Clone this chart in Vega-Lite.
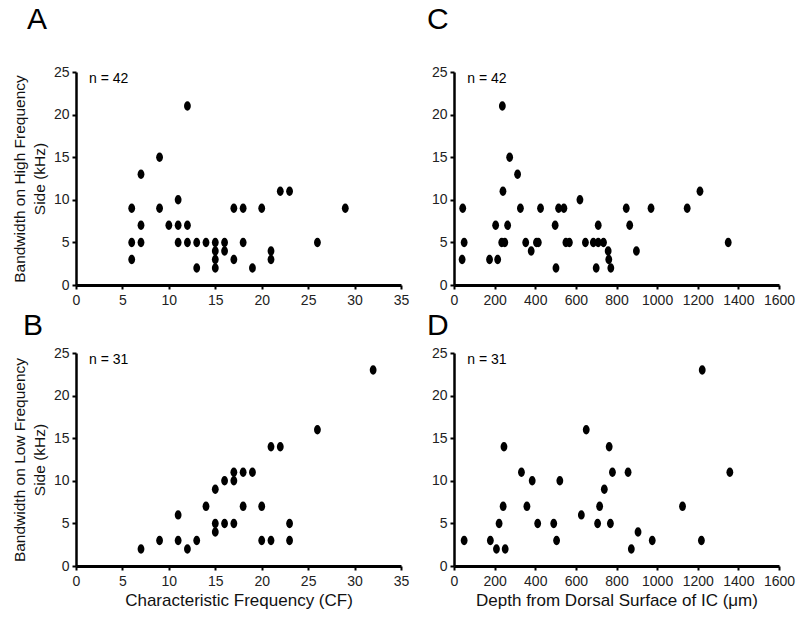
{
  "$schema": "https://vega.github.io/schema/vega-lite/v6.json",
  "background": "white",
  "padding": {"left": 12, "top": 5, "right": 5, "bottom": 5},
  "config": {
    "font": "Liberation Sans",
    "view": {"stroke": null},
    "axis": {"grid": false, "domainColor": "black", "domainWidth": 2.5, "tickColor": "black", "tickSize": 4, "tickWidth": 2, "labelFont": "Liberation Sans", "labelFontSize": 14, "labelColor": "#222", "labelPadding": 3, "labelFlush": false, "labelOverlap": false, "titleFont": "Liberation Sans", "titleFontSize": 15.5, "titleFontWeight": "normal", "titleColor": "#111", "titleLineHeight": 20},
    "axisX": {"domainWidth": 3, "labelPadding": 4, "titleFontSize": 17},
    "title": {"fontSize": 30, "fontWeight": "normal", "anchor": "start", "frame": "group", "color": "black", "font": "Liberation Sans"}
  },
  "datasets": {
    "A": [
      {"cf": 12, "bw": 21}, {"cf": 9, "bw": 15}, {"cf": 7, "bw": 13}, {"cf": 22, "bw": 11}, {"cf": 23, "bw": 11},
      {"cf": 11, "bw": 10}, {"cf": 6, "bw": 9}, {"cf": 9, "bw": 9}, {"cf": 17, "bw": 9}, {"cf": 18, "bw": 9},
      {"cf": 20, "bw": 9}, {"cf": 29, "bw": 9}, {"cf": 7, "bw": 7}, {"cf": 10, "bw": 7}, {"cf": 11, "bw": 7},
      {"cf": 12, "bw": 7}, {"cf": 6, "bw": 5}, {"cf": 7, "bw": 5}, {"cf": 11, "bw": 5}, {"cf": 12, "bw": 5},
      {"cf": 13, "bw": 5}, {"cf": 14, "bw": 5}, {"cf": 15, "bw": 5}, {"cf": 16, "bw": 5}, {"cf": 18, "bw": 5},
      {"cf": 26, "bw": 5}, {"cf": 15, "bw": 4}, {"cf": 16, "bw": 4}, {"cf": 21, "bw": 4}, {"cf": 6, "bw": 3},
      {"cf": 15, "bw": 3}, {"cf": 17, "bw": 3}, {"cf": 21, "bw": 3}, {"cf": 13, "bw": 2}, {"cf": 15, "bw": 2},
      {"cf": 19, "bw": 2}
    ],
    "B": [
      {"cf": 32, "bw": 23}, {"cf": 26, "bw": 16}, {"cf": 21, "bw": 14}, {"cf": 22, "bw": 14}, {"cf": 17, "bw": 11},
      {"cf": 18, "bw": 11}, {"cf": 19, "bw": 11}, {"cf": 16, "bw": 10}, {"cf": 17, "bw": 10}, {"cf": 15, "bw": 9},
      {"cf": 14, "bw": 7}, {"cf": 18, "bw": 7}, {"cf": 20, "bw": 7}, {"cf": 11, "bw": 6}, {"cf": 15, "bw": 5},
      {"cf": 16, "bw": 5}, {"cf": 17, "bw": 5}, {"cf": 23, "bw": 5}, {"cf": 15, "bw": 4}, {"cf": 9, "bw": 3},
      {"cf": 11, "bw": 3}, {"cf": 13, "bw": 3}, {"cf": 20, "bw": 3}, {"cf": 21, "bw": 3}, {"cf": 23, "bw": 3},
      {"cf": 7, "bw": 2}, {"cf": 12, "bw": 2}
    ],
    "C": [
      {"depth": 238, "bw": 21}, {"depth": 274, "bw": 15}, {"depth": 313, "bw": 13}, {"depth": 241, "bw": 11},
      {"depth": 1211, "bw": 11}, {"depth": 620, "bw": 10}, {"depth": 43, "bw": 9}, {"depth": 327, "bw": 9},
      {"depth": 426, "bw": 9}, {"depth": 515, "bw": 9}, {"depth": 541, "bw": 9}, {"depth": 848, "bw": 9},
      {"depth": 970, "bw": 9}, {"depth": 1148, "bw": 9}, {"depth": 205, "bw": 7}, {"depth": 264, "bw": 7},
      {"depth": 498, "bw": 7}, {"depth": 710, "bw": 7}, {"depth": 865, "bw": 7}, {"depth": 50, "bw": 5},
      {"depth": 235, "bw": 5}, {"depth": 250, "bw": 5}, {"depth": 353, "bw": 5}, {"depth": 406, "bw": 5},
      {"depth": 415, "bw": 5}, {"depth": 551, "bw": 5}, {"depth": 568, "bw": 5}, {"depth": 647, "bw": 5},
      {"depth": 686, "bw": 5}, {"depth": 710, "bw": 5}, {"depth": 736, "bw": 5}, {"depth": 1350, "bw": 5},
      {"depth": 380, "bw": 4}, {"depth": 759, "bw": 4}, {"depth": 898, "bw": 4}, {"depth": 40, "bw": 3},
      {"depth": 175, "bw": 3}, {"depth": 215, "bw": 3}, {"depth": 762, "bw": 3}, {"depth": 502, "bw": 2},
      {"depth": 700, "bw": 2}, {"depth": 772, "bw": 2}
    ],
    "D": [
      {"depth": 50, "bw": 3}, {"depth": 179, "bw": 3}, {"depth": 209, "bw": 2}, {"depth": 222, "bw": 5},
      {"depth": 246, "bw": 14}, {"depth": 242, "bw": 7}, {"depth": 252, "bw": 2}, {"depth": 332, "bw": 11},
      {"depth": 359, "bw": 7}, {"depth": 385, "bw": 10}, {"depth": 412, "bw": 5}, {"depth": 491, "bw": 5},
      {"depth": 505, "bw": 3}, {"depth": 521, "bw": 10}, {"depth": 627, "bw": 6}, {"depth": 651, "bw": 16},
      {"depth": 707, "bw": 5}, {"depth": 717, "bw": 7}, {"depth": 740, "bw": 9}, {"depth": 764, "bw": 14},
      {"depth": 770, "bw": 5}, {"depth": 780, "bw": 11}, {"depth": 857, "bw": 11}, {"depth": 873, "bw": 2},
      {"depth": 906, "bw": 4}, {"depth": 976, "bw": 3}, {"depth": 1125, "bw": 7}, {"depth": 1222, "bw": 23},
      {"depth": 1218, "bw": 3}, {"depth": 1358, "bw": 11}
    ]
  },
  "spacing": 4,
  "vconcat": [
    {
      "spacing": 18,
      "hconcat": [
        {
          "width": 325, "height": 213,
          "title": {"text": "A", "dx": -49, "offset": 30},
          "layer": [
            {
              "data": {"name": "A"},
              "mark": {"type": "point", "shape": "M0,-1C0.398,-1 0.72,-0.552 0.72,0C0.72,0.552 0.398,1 0,1C-0.398,1 -0.72,0.552 -0.72,0C-0.72,-0.552 -0.398,-1 0,-1Z", "filled": true, "color": "black", "size": 90, "opacity": 1},
              "encoding": {
                "x": {"field": "cf", "type": "quantitative", "scale": {"domain": [0, 35], "nice": false}, "axis": {"values": [0, 5, 10, 15, 20, 25, 30, 35], "title": null}},
                "y": {"field": "bw", "type": "quantitative", "scale": {"domain": [0, 25], "nice": false}, "axis": {"values": [0, 5, 10, 15, 20, 25], "title": ["Bandwidth on High Frequency", "Side (kHz)"], "titlePadding": 6}}
              }
            },
            {
              "data": {"values": [{}]},
              "mark": {"type": "text", "text": "n = 42", "align": "left", "baseline": "middle", "fontSize": 14, "color": "black"},
              "encoding": {"x": {"datum": 1.4}, "y": {"datum": 24.2}}
            }
          ]
        },
        {
          "width": 325, "height": 213,
          "title": {"text": "C", "dx": -27, "offset": 30},
          "layer": [
            {
              "data": {"name": "C"},
              "mark": {"type": "point", "shape": "M0,-1C0.398,-1 0.72,-0.552 0.72,0C0.72,0.552 0.398,1 0,1C-0.398,1 -0.72,0.552 -0.72,0C-0.72,-0.552 -0.398,-1 0,-1Z", "filled": true, "color": "black", "size": 90, "opacity": 1},
              "encoding": {
                "x": {"field": "depth", "type": "quantitative", "scale": {"domain": [0, 1600], "nice": false}, "axis": {"values": [0, 200, 400, 600, 800, 1000, 1200, 1400, 1600], "format": "d", "title": null}},
                "y": {"field": "bw", "type": "quantitative", "scale": {"domain": [0, 25], "nice": false}, "axis": {"values": [0, 5, 10, 15, 20, 25], "title": null}}
              }
            },
            {
              "data": {"values": [{}]},
              "mark": {"type": "text", "text": "n = 42", "align": "left", "baseline": "middle", "fontSize": 14, "color": "black"},
              "encoding": {"x": {"datum": 65}, "y": {"datum": 24.2}}
            }
          ]
        }
      ]
    },
    {
      "spacing": 18,
      "hconcat": [
        {
          "width": 325, "height": 213,
          "title": {"text": "B", "dx": -53, "offset": 5},
          "layer": [
            {
              "data": {"name": "B"},
              "mark": {"type": "point", "shape": "M0,-1C0.398,-1 0.72,-0.552 0.72,0C0.72,0.552 0.398,1 0,1C-0.398,1 -0.72,0.552 -0.72,0C-0.72,-0.552 -0.398,-1 0,-1Z", "filled": true, "color": "black", "size": 90, "opacity": 1},
              "encoding": {
                "x": {"field": "cf", "type": "quantitative", "scale": {"domain": [0, 35], "nice": false}, "axis": {"values": [0, 5, 10, 15, 20, 25, 30, 35], "title": "Characteristic Frequency (CF)", "titlePadding": 4}},
                "y": {"field": "bw", "type": "quantitative", "scale": {"domain": [0, 25], "nice": false}, "axis": {"values": [0, 5, 10, 15, 20, 25], "title": ["Bandwidth on Low Frequency", "Side (kHz)"], "titlePadding": 6}}
              }
            },
            {
              "data": {"values": [{}]},
              "mark": {"type": "text", "text": "n = 31", "align": "left", "baseline": "middle", "fontSize": 14, "color": "black"},
              "encoding": {"x": {"datum": 1.4}, "y": {"datum": 24.2}}
            }
          ]
        },
        {
          "width": 325, "height": 213,
          "title": {"text": "D", "dx": -27, "offset": 5},
          "layer": [
            {
              "data": {"name": "D"},
              "mark": {"type": "point", "shape": "M0,-1C0.398,-1 0.72,-0.552 0.72,0C0.72,0.552 0.398,1 0,1C-0.398,1 -0.72,0.552 -0.72,0C-0.72,-0.552 -0.398,-1 0,-1Z", "filled": true, "color": "black", "size": 90, "opacity": 1},
              "encoding": {
                "x": {"field": "depth", "type": "quantitative", "scale": {"domain": [0, 1600], "nice": false}, "axis": {"values": [0, 200, 400, 600, 800, 1000, 1200, 1400, 1600], "format": "d", "title": "Depth from Dorsal Surface of IC (μm)", "titlePadding": 4}},
                "y": {"field": "bw", "type": "quantitative", "scale": {"domain": [0, 25], "nice": false}, "axis": {"values": [0, 5, 10, 15, 20, 25], "title": null}}
              }
            },
            {
              "data": {"values": [{}]},
              "mark": {"type": "text", "text": "n = 31", "align": "left", "baseline": "middle", "fontSize": 14, "color": "black"},
              "encoding": {"x": {"datum": 65}, "y": {"datum": 24.2}}
            }
          ]
        }
      ]
    }
  ]
}
